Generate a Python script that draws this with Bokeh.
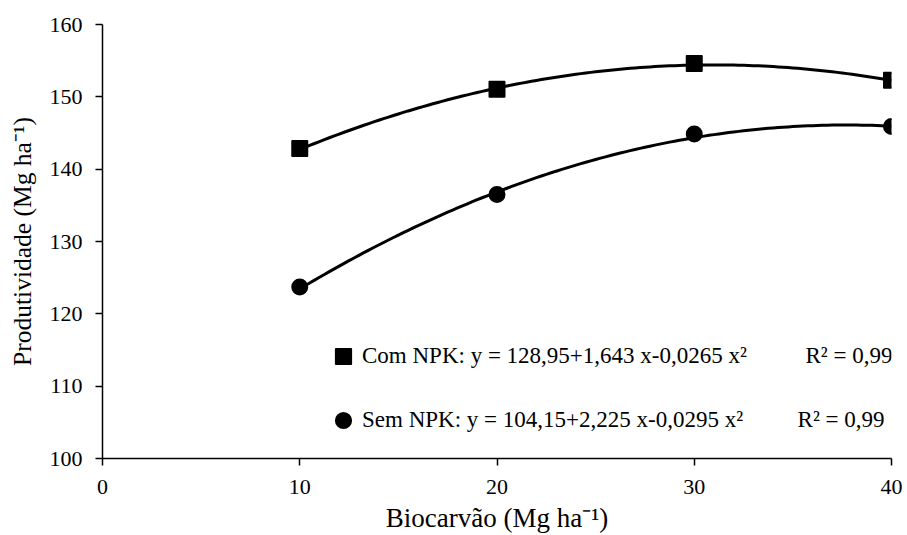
import numpy as np
from bokeh.plotting import figure
from bokeh.models import Range1d, Legend, LegendItem, Label
from bokeh.embed import file_html
from bokeh.resources import INLINE

# ---- data ----
doses = [10, 20, 30, 40]
com_npk = [142.85, 151.05, 154.6, 152.3]
sem_npk = [123.7, 136.5, 144.85, 145.9]
com_coef = [128.95, 1.643, -0.0265]   # y = a + b x + c x^2 (printed on chart)
sem_coef = [104.15, 2.225, -0.0295]
x_ticks = [0, 10, 20, 30, 40]
y_ticks = [100, 110, 120, 130, 140, 150, 160]
com_label = "Com NPK: y = 128,95+1,643 x-0,0265 x²"
sem_label = "Sem NPK: y = 104,15+2,225 x-0,0295 x²"
r2_com = "R² = 0,99"
r2_sem = "R² = 0,99"
x_title = "Biocarvão (Mg ha⁻¹)"
y_title = "Produtividade (Mg ha⁻¹)"

FONT = "Liberation Serif"

p = figure(width=905, height=535, output_backend="svg", toolbar_location=None,
           x_range=Range1d(0, 40), y_range=Range1d(100, 160),
           min_border_left=102, min_border_right=14, min_border_top=24, min_border_bottom=77)
p.outline_line_color = None
p.grid.visible = False
p.background_fill_color = "white"
p.border_fill_color = "white"

for ax in (p.xaxis[0], p.yaxis[0]):
    ax.axis_line_width = 1.5
    ax.axis_line_color = "black"
    ax.major_tick_line_width = 1.5
    ax.major_tick_line_color = "black"
    ax.major_tick_in = 0
    ax.major_tick_out = 7
    ax.minor_tick_line_color = None
    ax.major_label_text_font = FONT
    ax.major_label_text_font_size = "22px"
    ax.major_label_text_color = "black"
    ax.axis_label_text_font = FONT
    ax.axis_label_text_font_style = "normal"
    ax.axis_label_text_color = "black"

p.xaxis.axis_label_text_font_size = "27px"
p.yaxis.axis_label_text_font_size = "25.5px"
p.xaxis.ticker = x_ticks
p.yaxis.ticker = y_ticks
p.xaxis.major_label_standoff = 14
p.yaxis.major_label_standoff = 13
p.xaxis.axis_label = x_title
p.yaxis.axis_label = y_title
p.xaxis.axis_label_standoff = 6
p.yaxis.axis_label_standoff = 10

# fitted curves from the printed coefficients
xs = np.linspace(min(doses), max(doses), 121)
ys_com = com_coef[0] + com_coef[1] * xs + com_coef[2] * xs ** 2
ys_sem = sem_coef[0] + sem_coef[1] * xs + sem_coef[2] * xs ** 2
p.line(xs, ys_com, line_color="black", line_width=3)
p.line(xs, ys_sem, line_color="black", line_width=3)

r_com = p.scatter(doses, com_npk, marker="square", size=15, fill_color="black",
                  line_color="black", line_width=2, line_join="round")
r_sem = p.scatter(doses, sem_npk, marker="circle", size=15, fill_color="black",
                  line_color="black", line_width=2)

legend = Legend(items=[LegendItem(label=com_label, renderers=[r_com]),
                       LegendItem(label=sem_label, renderers=[r_sem])],
                location=(222, 19), orientation="vertical",
                glyph_width=38, glyph_height=38, spacing=26, padding=0, margin=0,
                label_standoff=-9, label_text_font=FONT, label_text_font_size="23px",
                label_text_color="black", border_line_color=None,
                background_fill_alpha=0)
p.add_layout(legend)

p.add_layout(Label(x=35.64, y=114.24, text=r2_com, text_font=FONT, text_font_size="23px",
                   text_baseline="middle", text_color="black"))
p.add_layout(Label(x=35.24, y=105.39, text=r2_sem, text_font=FONT, text_font_size="23px",
                   text_baseline="middle", text_color="black"))

open("out.html", "w").write(file_html(p, INLINE))
